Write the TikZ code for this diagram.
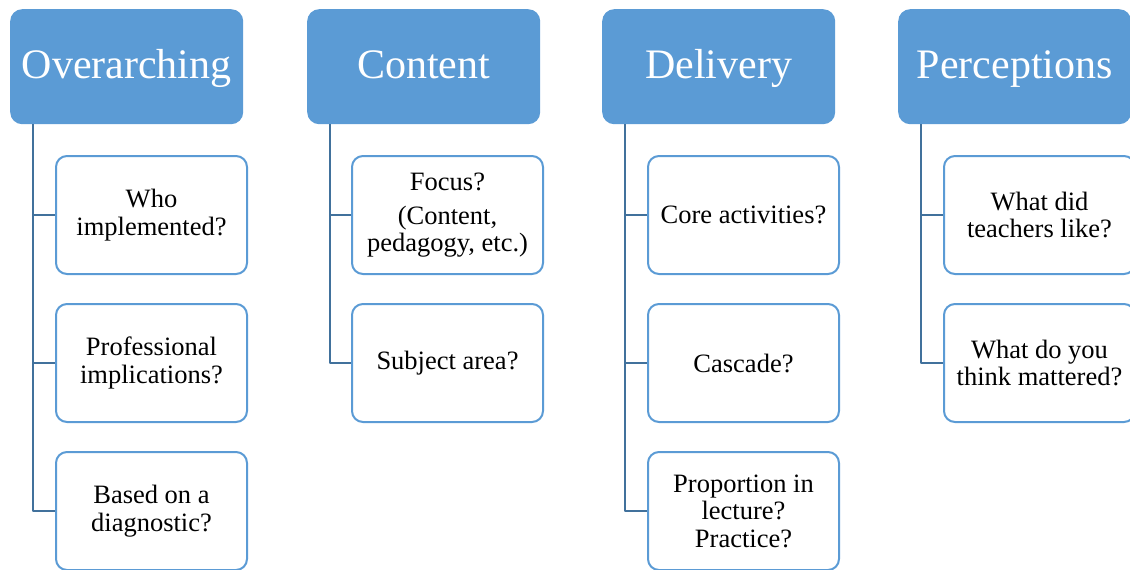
\documentclass[tikz,border=0pt]{standalone}
\usepackage{fontspec}
\setmainfont{Liberation Serif}
\definecolor{headblue}{HTML}{5B9BD5}
\definecolor{linkblue}{HTML}{41719C}
\tikzset{
  head/.style={fill=headblue, text=white, rounded corners=12pt, anchor=north west,
    minimum width=233pt, minimum height=115pt, inner sep=0pt,
    text height=32pt, text depth=9pt,
    font=\fontsize{42}{50}\selectfont},
  item/.style={draw=headblue, fill=white, line width=2pt, rounded corners=11pt,
    anchor=north west, minimum width=191pt, minimum height=118pt, inner sep=2pt,
    align=center, font=\fontsize{26.5}{27.5}\selectfont},
  link/.style={draw=linkblue, line width=2pt}
}
\begin{document}
\begin{tikzpicture}[x=1pt,y=-1pt,line join=round]
\def\hy{9}   % top of the headers
\def\ra{155} % top of first row
\def\rb{303} % top of second row
\def\rc{451} % top of third row
\useasboundingbox (0,0) rectangle (1130,570);
% headers
\node[head] (over) at (10,\hy) {Overarching};
\node[head] (cont) at (307,\hy) {Content};
\node[head] (deli) at (602,\hy) {Delivery};
\node[head] (perc) at (898,\hy) {Perceptions};
% overarching
\node[item] (over1) at (55,\ra) {Who\\implemented?};
\node[item] (over2) at (55,\rb) {Professional\\implications?};
\node[item] (over3) at (55,\rc) {Based on a\\diagnostic?};
% content
\node[item] (cont1) at (351,\ra) {Focus?\\[7pt](Content,\\[-1pt]pedagogy, etc.)};
\node[item] (cont2) at (351,\rb) {Subject area?};
% delivery
\node[item] (deli1) at (647,\ra) {Core activities?};
\node[item] (deli2) at (647,\rb) {Cascade?};
\node[item] (deli3) at (647,\rc) {Proportion in\\lecture?\\Practice?};
% perceptions
\node[item] (perc1) at (943,\ra) {What did\\teachers like?};
\node[item] (perc2) at (943,\rb) {What do you\\think mattered?};
% connectors
\draw[link] ([xshift=23pt]over.south west) |- (over1.west);
\draw[link] ([xshift=23pt]over.south west) |- (over2.west);
\draw[link] ([xshift=23pt]over.south west) |- (over3.west);
\draw[link] ([xshift=23pt]cont.south west) |- (cont1.west);
\draw[link] ([xshift=23pt]cont.south west) |- (cont2.west);
\draw[link] ([xshift=23pt]deli.south west) |- (deli1.west);
\draw[link] ([xshift=23pt]deli.south west) |- (deli2.west);
\draw[link] ([xshift=23pt]deli.south west) |- (deli3.west);
\draw[link] ([xshift=23pt]perc.south west) |- (perc1.west);
\draw[link] ([xshift=23pt]perc.south west) |- (perc2.west);
\end{tikzpicture}
\end{document}
